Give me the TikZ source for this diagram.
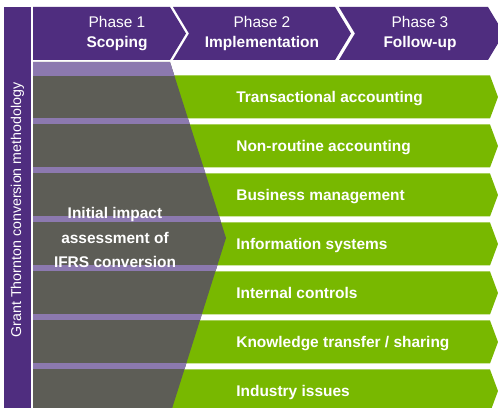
\documentclass[tikz,border=0pt]{standalone}
\usepackage{fontspec}
\setmainfont{Liberation Sans}
\usepackage{tikz}
\usetikzlibrary{calc}
\definecolor{PhsFill} {RGB}{79,45,127}
\definecolor{BandFill}{RGB}{140,121,175}
\definecolor{ScpFill} {RGB}{93,93,86}
\definecolor{RowFill} {RGB}{120,184,0}
\tikzset{
  nd_phase/.style={
    align=center, text=white, inner sep=0pt,
    font=\fontsize{8.8}{11.3}\selectfont},
  nd_row/.style={
    anchor=base west, text=white, inner sep=0pt,
    font=\fontsize{8.8}{10.5}\selectfont\bfseries},
  nd_scope/.style={
    align=center, text=white, inner sep=0pt,
    font=\fontsize{8.8}{13.9}\selectfont\bfseries},
  nd_side/.style={
    rotate=90, text=white, inner sep=0pt,
    font=\fontsize{8.1}{10}\selectfont},
}
% left x, right x, notch depth, centre x, name, text
\newcommand{\phasearrow}[6]{%
  \fill[PhsFill] (#1,7) -- (#2,7) -- (#2+16,33.5) -- (#2,60)
    -- (#1,60) -- (#1+#3,33.5) -- cycle;
  \node[nd_phase] (#5) at (#4,33.5) {#6};
}

\begin{document}
\begin{tikzpicture}[x=0.02cm,y=-0.02cm]

\clip (0,0) rectangle (498,408);
\fill[white] (0,0) rectangle (498,408);

%% side bar
\fill[PhsFill] (4,7) rectangle (31,415);
\node[nd_side] (side) at (17.5,210) {Grant Thornton conversion methodology};

%% phases
\phasearrow{33}{170}{0}{117}{P1}{Phase 1\\\textbf{Scoping}}
\phasearrow{173}{335}{16}{262}{P2}{Phase 2\\\textbf{Implementation}}
\phasearrow{339}{488}{16}{420}{P3}{Phase 3\\\textbf{Follow-up}}

%% work streams
\foreach \i/\txt in {0/{Transactional accounting},1/{Non-routine accounting},
    2/{Business management},3/{Information systems},4/{Internal controls},
    5/{Knowledge transfer / sharing},6/{Industry issues}}
{
  \pgfmathsetmacro{\yt}{75.5+49*\i}
  \fill[RowFill] (150,\yt) -- (490,\yt) -- (498,\yt+21.5)
    -- (490,\yt+43) -- (150,\yt+43) -- cycle;
  \node[nd_row] (r\i) at (236,\yt+27.5) {\txt};
}

%% scoping block
\fill[ScpFill] (33,62) -- (170,62) -- (226,238) -- (170,415) -- (33,415) -- cycle;
\begin{scope}
  \clip (33,62) -- (170,62) -- (226,238) -- (170,415) -- (33,415) -- cycle;
  \fill[BandFill] (33,62) rectangle (240,76);
  \foreach \i in {1,...,6}
    {\fill[BandFill] (33,69.5+49*\i) rectangle (240,75.5+49*\i);}
\end{scope}
\node[nd_scope] (S) at (115,237.5) {Initial impact\\assessment of\\IFRS conversion};

\end{tikzpicture}
\end{document}
